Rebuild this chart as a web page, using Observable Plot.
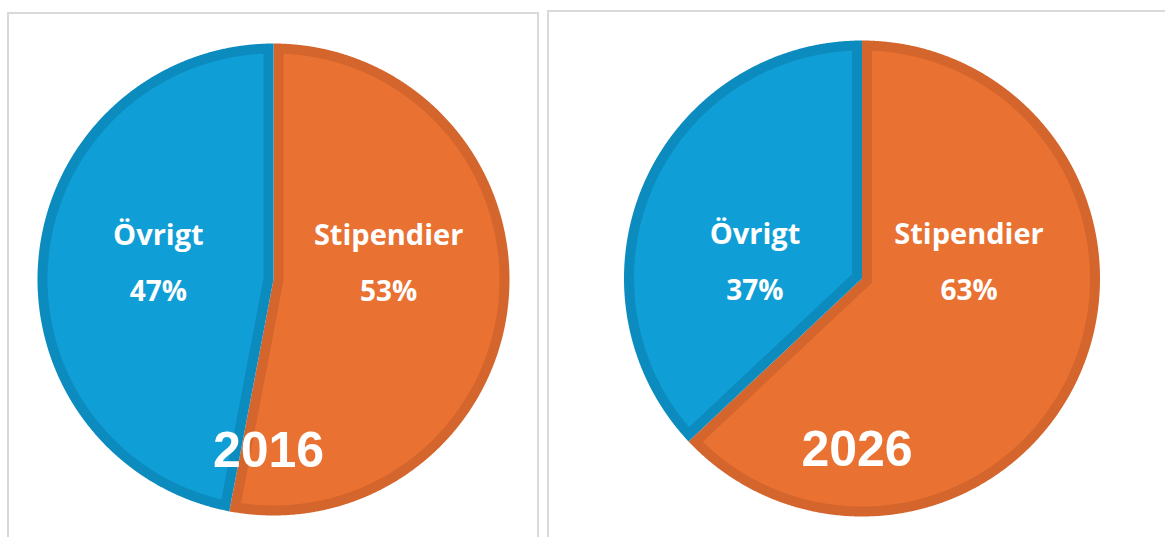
<!DOCTYPE html>
<html>
<head>
<meta charset="utf-8">
<script src="https://cdn.jsdelivr.net/npm/d3@7"></script>
<script src="https://cdn.jsdelivr.net/npm/@observablehq/plot@0.6"></script>
<style>
  html, body { margin: 0; padding: 0; background: #fff; width: 1165px; height: 537px; overflow: hidden; }
  .panel { position: absolute; box-sizing: border-box; border: 2px solid #d9d9d9; overflow: hidden; background: #fff; }
  .panel svg { display: block; }
</style>
</head>
<body>
<div id="p0" class="panel" style="left:7px; top:12px; width:532px; height:560px;"></div>
<div id="p1" class="panel" style="left:547px; top:10px; width:640px; height:560px;"></div>
<script>
// ---- data ----
const years = ["2016", "2026"];
const categories = ["Stipendier", "Övrigt"];
const shares2016 = [53, 47];
const shares2026 = [63, 37];
const fillColors = ["#E97132", "#0F9ED5"];
const bandColors = ["#D4652C", "#0C8BBE"];

// ---- layout ----
const panels = [
  {id: "p0", ox: 9,   oy: 14, w: 528, h: 556, cx: 273,   cy: 279, r: 236, year: years[0], values: shares2016},
  {id: "p1", ox: 549, oy: 12, w: 636, h: 556, cx: 861.5, cy: 278, r: 238, year: years[1], values: shares2026}
];
const band = 10;

function slicePolygon(cx, cy, r, a0, a1) {
  const d = band / 2;
  const rr = r - d;
  const da = Math.asin(d / rr);
  const s = a0 + da, e = a1 - da;
  const m = (a0 + a1) / 2;
  const pt = (rad, a) => ({x: cx + rad * Math.sin(a), y: cy - rad * Math.cos(a)});
  const pts = [];
  const n = Math.max(8, Math.ceil((e - s) / (Math.PI / 360)));
  for (let i = 0; i <= n; i++) {
    const a = m + (e - m) * i / n;
    pts.push(pt(rr, a));
  }
  const apexDist = d / Math.sin((a1 - a0) / 2);
  pts.push(pt(apexDist, m));
  for (let i = 0; i <= n; i++) {
    const a = s + (m - s) * i / n;
    pts.push(pt(rr, a));
  }
  return pts;
}

const labelFont = "'Open Sans', 'Noto Sans', sans-serif";

for (const p of panels) {
  const arcs = d3.pie().sort(null).value(v => v)(p.values);
  const marks = [];
  arcs.forEach((a, i) => {
    marks.push(Plot.line(slicePolygon(p.cx, p.cy, p.r, a.startAngle, a.endAngle), {
      x: "x", y: "y",
      fill: fillColors[i], stroke: bandColors[i], strokeWidth: band,
      strokeLinejoin: "miter", strokeLinecap: "round", strokeMiterlimit: 20, curve: "linear"
    }));
  });
  const k = 0.49;
  const labels = arcs.map((a, i) => {
    const mid = (a.startAngle + a.endAngle) / 2;
    return {
      x: p.cx + k * p.r * Math.sin(mid),
      name: categories[i],
      pct: p.values[i] + "%"
    };
  });
  marks.push(Plot.text(labels, {x: "x", y: () => p.cy - 44, text: "name", fill: "white",
    fontSize: 29, fontWeight: 700, fontFamily: labelFont, textAnchor: "middle", lineAnchor: "middle"}));
  marks.push(Plot.text(labels, {x: "x", y: () => p.cy + 13, text: "pct", fill: "white",
    fontSize: 28, fontWeight: 700, fontFamily: labelFont, textAnchor: "middle", lineAnchor: "middle"}));
  marks.push(Plot.text([p.year], {x: () => p.cx - 5, y: () => p.cy + 171, text: d => d, fill: "white",
    fontSize: 50, fontWeight: 700, fontFamily: "'Liberation Sans', Arial, sans-serif", textAnchor: "middle", lineAnchor: "middle"}));

  const chart = Plot.plot({
    width: p.w, height: p.h,
    marginTop: 0, marginRight: 0, marginBottom: 0, marginLeft: 0,
    x: {domain: [p.ox, p.ox + p.w], range: [0, p.w], axis: null},
    y: {domain: [p.oy, p.oy + p.h], range: [0, p.h], axis: null},
    style: {background: "transparent", overflow: "visible"},
    marks
  });
  document.getElementById(p.id).appendChild(chart);
}
</script>
</body>
</html>
